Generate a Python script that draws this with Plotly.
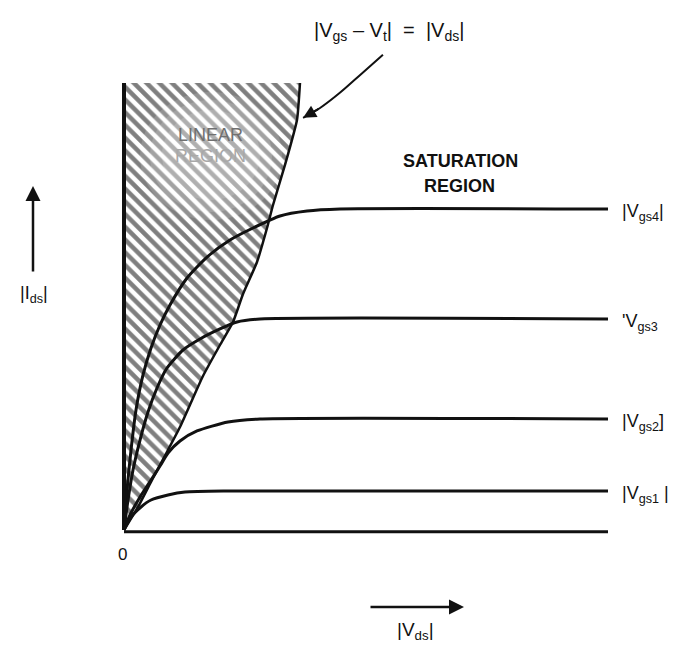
import plotly.graph_objects as go

W, H = 674, 652

# ---- data (Vds, Ids in arbitrary units) ----
vds_gs4 = [0, 0.062, 0.145, 0.248, 0.393, 0.558, 0.744, 0.950, 1.302, 1.715, 2.190, 2.665, 3.223, 3.781, 4.463, 10.0]
ids_gs4 = [0, 0.895, 1.790, 2.685, 3.468, 4.072, 4.586, 5.034, 5.638, 6.107, 6.488, 6.756, 7.025, 7.136, 7.181, 7.181]

vds_gs3 = [0, 0.083, 0.186, 0.331, 0.496, 0.682, 0.888, 1.219, 1.570, 1.983, 2.335, 2.810, 10.0]
ids_gs3 = [0, 0.671, 1.342, 2.013, 2.640, 3.177, 3.624, 4.027, 4.273, 4.497, 4.653, 4.720, 4.720]

vds_gs2 = [0, 0.124, 0.331, 0.558, 0.744, 0.909, 1.157, 1.508, 2.149, 2.810, 10.0]
ids_gs2 = [0, 0.336, 0.738, 1.119, 1.432, 1.723, 1.991, 2.215, 2.416, 2.483, 2.483]

vds_gs1 = [0, 0.145, 0.351, 0.558, 0.909, 1.260, 2.149, 10.0]
ids_gs1 = [0, 0.291, 0.515, 0.671, 0.783, 0.850, 0.872, 0.872]

vds_edge = [0, 0.289, 0.579, 0.909, 1.157, 1.426, 1.632, 1.983, 2.252, 2.459, 2.748, 2.955, 3.079, 3.326, 3.574, 3.636]
ids_edge = [0, 0.515, 1.119, 1.790, 2.304, 2.953, 3.445, 4.139, 4.653, 5.280, 5.996, 6.756, 7.271, 8.166, 9.172, 10.0]

vds_pointer = [5.35, 4.92, 4.46, 4.05, 3.70]
ids_pointer = [10.63, 10.22, 9.78, 9.44, 9.22]

curve_labels = ["|V<sub>gs4</sub>|", "'V<sub>gs3</sub>", "|V<sub>gs2</sub>]", "|V<sub>gs1</sub> |"]
vds_max = 10.0
ids_top = 10.0

# plot mapping: origin at (124,530) px, 48.4 px per Vds unit, 44.7 px per Ids unit
x0px, y0px, sx, sy = 124, 530, 48.4, 44.7
xr = [-x0px / sx, (W - x0px) / sx]
yr = [-(H - y0px) / sy, y0px / sy]

FONT = "Liberation Sans, Arial, sans-serif"
INK = "#111111"

fig = go.Figure()

# hatched linear region
fig.add_trace(go.Scatter(
    x=vds_edge + [0, 0], y=ids_edge + [ids_top, 0],
    mode="lines", fill="toself", line=dict(width=0, color="rgba(0,0,0,0)"),
    fillcolor="white",
    fillpattern=dict(shape="\\", size=9, solidity=0.5, fgcolor="#000000", bgcolor="white"),
    hoverinfo="skip", showlegend=False))

# boundary of linear region
fig.add_trace(go.Scatter(x=vds_edge, y=ids_edge, mode="lines",
                         line=dict(color=INK, width=2.5, shape="spline", smoothing=0.5),
                         showlegend=False, hoverinfo="skip"))

# axes drawn as thick lines
fig.add_trace(go.Scatter(x=[0, 0], y=[0, ids_top], mode="lines",
                         line=dict(color=INK, width=4), showlegend=False, hoverinfo="skip"))
fig.add_trace(go.Scatter(x=[0, vds_max], y=[-0.04, -0.04], mode="lines",
                         line=dict(color=INK, width=3), showlegend=False, hoverinfo="skip"))

# characteristic curves
for xs, ys in [(vds_gs4, ids_gs4), (vds_gs3, ids_gs3), (vds_gs2, ids_gs2), (vds_gs1, ids_gs1)]:
    fig.add_trace(go.Scatter(x=xs, y=ys, mode="lines",
                             line=dict(color=INK, width=3, shape="spline", smoothing=0.6),
                             showlegend=False, hoverinfo="skip"))

# pointer curve from the formula to the boundary
fig.add_trace(go.Scatter(x=vds_pointer, y=ids_pointer, mode="lines",
                         line=dict(color=INK, width=2, shape="spline", smoothing=1.0),
                         showlegend=False, hoverinfo="skip"))

ann = []
ann.append(dict(x=vds_pointer[-1], y=ids_pointer[-1], xref="x", yref="y",
                ax=vds_pointer[-2], ay=ids_pointer[-2], axref="x", ayref="y",
                showarrow=True, arrowhead=2, arrowsize=1.3, arrowwidth=2, arrowcolor=INK, text=""))

# curve labels
for lab, ys in zip(curve_labels, [ids_gs4, ids_gs3, ids_gs2, ids_gs1]):
    ann.append(dict(x=vds_max + 0.25, y=ys[-1], xref="x", yref="y", text=lab,
                    showarrow=False, xanchor="left", yanchor="middle", yshift=-3,
                    font=dict(family=FONT, size=18, color=INK)))

def px(xp, yp):
    return dict(x=xp / W, y=1 - yp / H, xref="paper", yref="paper",
                xanchor="center", yanchor="middle")

ann.append(dict(**px(389, 31),
                text="|V<sub>gs</sub> \u2013 V<sub>t</sub>|  =  |V<sub>ds</sub>|",
                showarrow=False, font=dict(family=FONT, size=20, color=INK)))
ann.append(dict(**px(460, 161), text="<b>SATURATION</b>", showarrow=False,
                font=dict(family=FONT, size=18, color=INK)))
ann.append(dict(**px(459, 186), text="<b>REGION</b>", showarrow=False,
                font=dict(family=FONT, size=18, color=INK)))
ann.append(dict(**px(210, 135), text="LINEAR", showarrow=False,
                font=dict(family=FONT, size=18, color="#707070")))
ann.append(dict(**px(210, 156), text="REGION", showarrow=False,
                font=dict(family=FONT, size=18, color="#a8a8a8")))
ann.append(dict(**px(122, 554), text="0", showarrow=False,
                font=dict(family=FONT, size=17, color=INK)))

# Ids arrow and label
ann.append(dict(x=33 / W, y=1 - 186 / H, xref="paper", yref="paper", ax=0, ay=87,
                showarrow=True, arrowhead=2, arrowsize=1.2,
                arrowwidth=2.5, arrowcolor=INK, text=""))
ann.append(dict(**px(34, 295), text="|I<sub>ds</sub>|", showarrow=False,
                font=dict(family=FONT, size=18, color=INK)))
# Vds arrow and label
ann.append(dict(x=464 / W, y=1 - 607 / H, xref="paper", yref="paper", ax=-95, ay=0,
                showarrow=True, arrowhead=2, arrowsize=1.2,
                arrowwidth=2.5, arrowcolor=INK, text=""))
ann.append(dict(**px(415, 631), text="|V<sub>ds</sub>|", showarrow=False,
                font=dict(family=FONT, size=19, color=INK)))

# faded (stippled) patch in the middle of the hatched area, as in the scanned original
shapes = []
for (l, r, t, b, a) in [(140, 282, 92, 220, 0.15), (150, 272, 100, 212, 0.15), (162, 260, 110, 200, 0.15)]:
    shapes.append(dict(type="circle", xref="paper", yref="paper",
                       x0=l / W, x1=r / W, y0=1 - b / H, y1=1 - t / H,
                       fillcolor="rgba(255,255,255,%g)" % a, line=dict(width=0), layer="above"))

fig.update_layout(
    width=W, height=H, margin=dict(l=0, r=0, t=0, b=0),
    paper_bgcolor="white", plot_bgcolor="white",
    xaxis=dict(range=xr, visible=False, fixedrange=True),
    yaxis=dict(range=yr, visible=False, fixedrange=True),
    annotations=ann, shapes=shapes, showlegend=False,
)

fig.write_html("out.html")
